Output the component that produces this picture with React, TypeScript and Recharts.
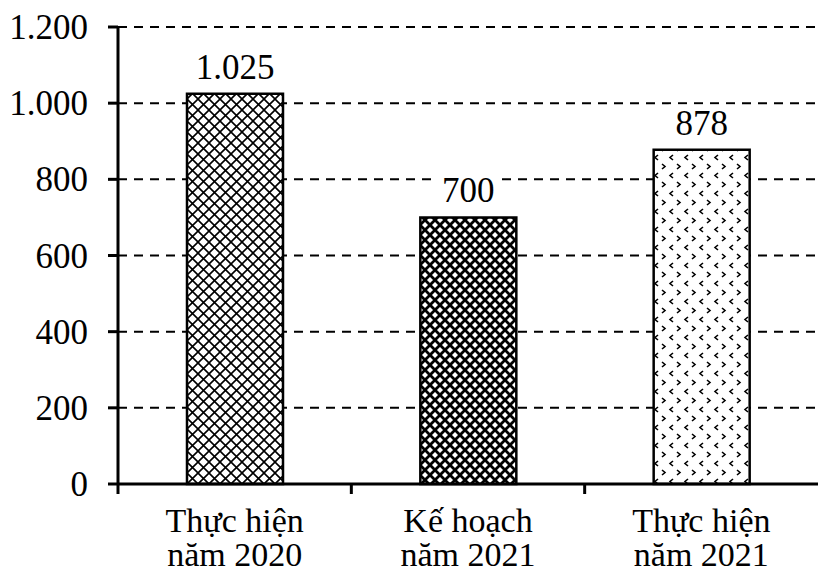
import React from 'react';
import { BarChart, Bar, XAxis, YAxis, CartesianGrid, LabelList, Cell } from 'recharts';

const categories = ['Thực hiện năm 2020', 'Kế hoạch năm 2021', 'Thực hiện năm 2021'];
const labelLine1 = ['Thực hiện', 'Kế hoạch', 'Thực hiện'];
const labelLine2 = ['năm 2020', 'năm 2021', 'năm 2021'];
const values = [1025, 700, 878];
const yTicks = [0, 200, 400, 600, 800, 1000, 1200];
const patternIds = ['crosshatch', 'weave', 'chevrons'];

const data = categories.map((c, i) => ({ name: c, value: values[i] }));

const FONT = '"Liberation Serif", "Times New Roman", "DejaVu Serif", serif';
const W = 818;
const H = 576;
const Y_AXIS_W = 118;
const HALF_BAND = (W - Y_AXIS_W) / categories.length / 2;
const textStyle = { fontFamily: FONT, fontSize: 35 };
const xLabelStyle = { fontFamily: FONT, fontSize: 34 };

const fmt = (v: number) => String(v).replace(/\B(?=(\d{3})+(?!\d))/g, '.');

const XTick = (props: any) => {
  const { x, y, payload } = props;
  const i = categories.indexOf(payload.value);
  return (
    <g>
      <line x1={x - HALF_BAND} y1={y} x2={x - HALF_BAND} y2={y + 10} stroke="#000" strokeWidth={3} />
      <text x={x} y={y + 48} textAnchor="middle" style={xLabelStyle} fill="#000">
        {labelLine1[i]}
      </text>
      <text x={x} y={y + 82} textAnchor="middle" style={xLabelStyle} fill="#000">
        {labelLine2[i]}
      </text>
    </g>
  );
};

const YTick = (props: any) => {
  const { x, y, payload } = props;
  return (
    <text x={x} y={y + 12} textAnchor="end" style={textStyle} fill="#000">
      {fmt(payload.value)}
    </text>
  );
};

const ValueLabel = (props: any) => {
  const { x, y, width, value } = props;
  const s = fmt(Number(value));
  const cx = Number(x) + Number(width) / 2;
  const cy = Number(y) - 27;
  const w = s.length * 18 + 12;
  return (
    <g>
      <rect x={cx - w / 2} y={cy - 18} width={w} height={36} fill="#fff" />
      <text x={cx} y={cy + 12} textAnchor="middle" style={textStyle} fill="#000">
        {s}
      </text>
    </g>
  );
};

export default function App() {
  return (
    <div style={{ position: 'absolute', left: 0, top: 0, width: W, height: H, background: '#fff' }}>
      <BarChart width={W} height={H} data={data} margin={{ top: 27, right: 0, bottom: 0, left: 0 }}>
        <defs>
          <pattern id="crosshatch" width="11" height="11" patternUnits="userSpaceOnUse">
            <rect width="11" height="11" fill="#fff" />
            <path d="M-1,-1 L12,12 M12,-1 L-1,12" stroke="#000" strokeWidth="1.6" />
          </pattern>
          <pattern id="weave" width="10" height="10" patternUnits="userSpaceOnUse">
            <rect width="10" height="10" fill="#fff" />
            <path d="M-1,6 L6,-1 M4,11 L11,4 M6,1 L9,4 M1,6 L4,9" stroke="#000" strokeWidth="2.8" />
          </pattern>
          <pattern id="chevrons" width="15" height="18" patternUnits="userSpaceOnUse">
            <rect width="15" height="18" fill="#fff" />
            <path d="M2,2 L5,4.5 L2,7 M13,11 L10,13.5 L13,16" stroke="#000" strokeWidth="1.6" fill="none" />
          </pattern>
        </defs>
        <CartesianGrid vertical={false} stroke="#000" strokeWidth={2} strokeDasharray="9 7" />
        <XAxis
          dataKey="name"
          interval={0}
          height={92}
          tickSize={0}
          tickMargin={0}
          tickLine={false}
          axisLine={{ stroke: '#000', strokeWidth: 3 }}
          tick={<XTick />}
        />
        <YAxis
          type="number"
          domain={[0, 1200]}
          ticks={yTicks}
          interval={0}
          width={Y_AXIS_W}
          tickSize={10}
          tickMargin={20}
          axisLine={{ stroke: '#000', strokeWidth: 3 }}
          tickLine={{ stroke: '#000', strokeWidth: 3 }}
          tick={<YTick />}
        />
        <Bar dataKey="value" barSize={96} stroke="#000" strokeWidth={2.5} isAnimationActive={false}>
          {data.map((d, i) => (
            <Cell key={d.name} fill={`url(#${patternIds[i]})`} />
          ))}
          <LabelList dataKey="value" content={<ValueLabel />} />
        </Bar>
      </BarChart>
    </div>
  );
}
